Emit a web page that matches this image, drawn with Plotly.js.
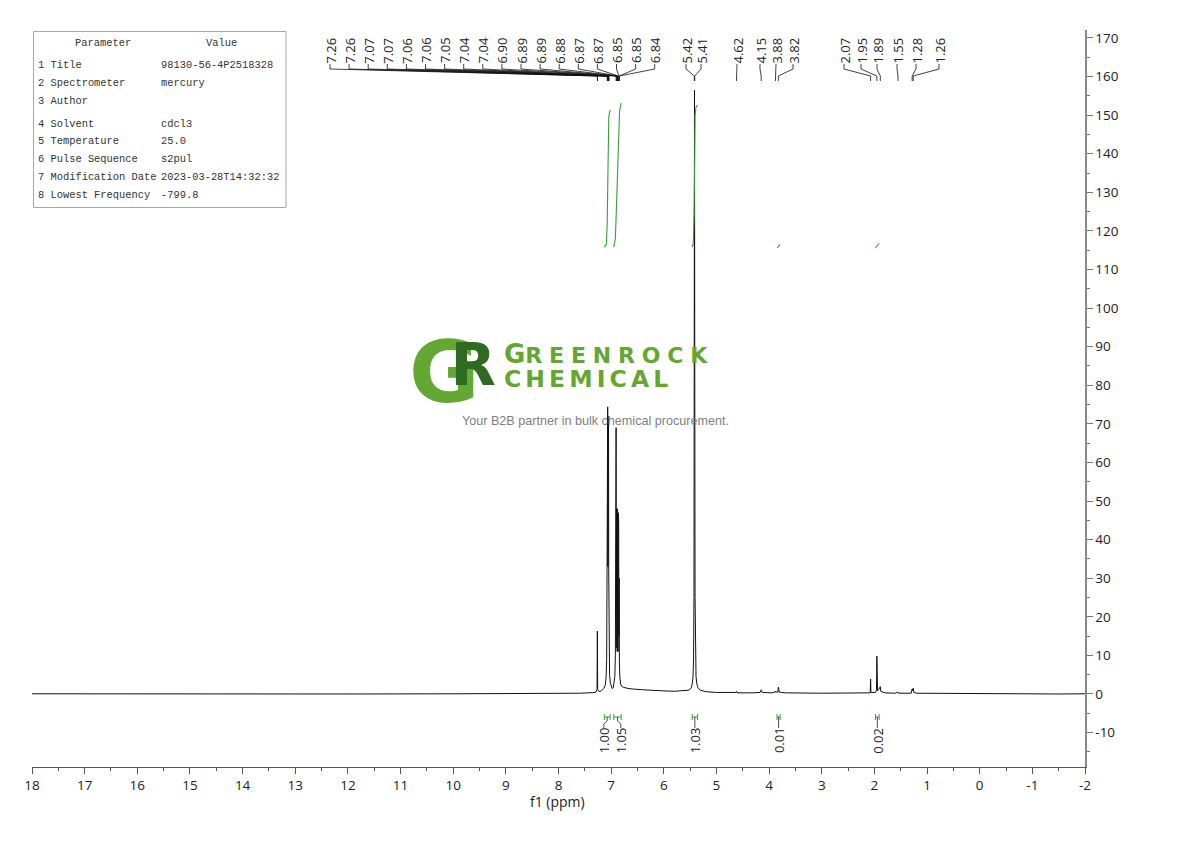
<!DOCTYPE html>
<html>
<head>
<meta charset="utf-8">
<script src="https://cdn.plot.ly/plotly-3.0.1.min.js"></script>
<style>html,body{margin:0;padding:0;background:#fff}#chart{width:1190px;height:841px}</style>
</head>
<body>
<div id="chart"></div>
<script>
// ================= DATA =================
const spectrumPpm = [18.0,16.0,14.0,12.0,10.0,8.5,7.6,7.35,7.29,7.268,7.262,7.256,7.23,7.18,7.14,7.11,7.095,7.085,7.078,7.073,7.070,7.066,7.062,7.058,7.054,7.050,7.046,7.040,7.030,7.015,7.00,6.98,6.96,6.945,6.93,6.92,6.912,6.906,6.902,6.897,6.893,6.889,6.885,6.881,6.877,6.873,6.869,6.865,6.861,6.857,6.853,6.848,6.843,6.835,6.82,6.80,6.76,6.70,6.60,6.40,6.20,6.00,5.80,5.60,5.52,5.48,5.46,5.445,5.435,5.427,5.421,5.417,5.412,5.406,5.398,5.388,5.372,5.35,5.31,5.20,5.00,4.70,4.63,4.62,4.61,4.30,4.17,4.155,4.15,4.145,4.13,3.95,3.885,3.88,3.875,3.835,3.824,3.818,3.81,3.70,3.0,2.5,2.15,2.08,2.072,2.066,1.98,1.96,1.953,1.947,1.94,1.92,1.895,1.888,1.88,1.80,1.60,1.552,1.54,1.30,1.283,1.275,1.262,1.25,1.20,0.5,-0.5,-1.5,-2.0];
const spectrumInt = [0.05,0.0,0.05,0.0,0.05,0.1,0.2,0.35,0.45,1.2,16.3,1.2,0.6,0.9,1.4,2.4,4.5,9,31,73,35,74.4,33,72,40,70,32,12,5,2.8,1.8,1.4,1.6,2.6,4.5,10,30,69,22,48,12,47,11,48,12,46,11,47,13,45,15,30,8,4.5,2.6,2.0,1.7,1.5,1.3,1.1,0.9,0.8,0.7,0.8,1.0,1.6,2.6,4.5,9,25,80,156.5,85,25,9,4.5,2.6,1.6,1.0,0.6,0.4,0.3,0.4,0.7,0.3,0.3,0.4,0.9,1.1,0.9,0.4,0.3,0.5,0.7,0.5,0.5,1.8,1.5,0.5,0.3,0.2,0.2,0.2,0.3,3.9,0.4,0.4,1.1,9.8,1.9,0.9,1.1,1.8,1.9,0.7,0.3,0.2,0.5,0.2,0.2,1.3,0.9,1.5,0.4,0.2,0.1,0.05,0.0,0.05];

const peakLabels = ['7.26','7.26','7.07','7.07','7.06','7.06','7.05','7.04','7.04','6.90','6.89','6.89','6.88','6.87','6.87','6.85','6.85','6.84','5.42','5.41','4.62','4.15','3.88','3.82','2.07','1.95','1.89','1.55','1.28','1.26'];
const peakPpm = [7.262,7.258,7.073,7.070,7.066,7.062,7.054,7.046,7.040,6.906,6.897,6.889,6.881,6.873,6.865,6.853,6.848,6.843,5.421,5.412,4.62,4.15,3.88,3.824,2.072,1.953,1.888,1.552,1.283,1.262];

const integralFrom = [7.13, 6.95, 5.46, 3.85, 1.98];
const integralTo = [7.02, 6.81, 5.36, 3.79, 1.91];
const integralLabels = ['1.00','1.05','1.03','0.01','0.02'];
const integralCurvePpm = [
  [7.13,7.09,7.075,7.065,7.055,7.045,7.02],
  [6.95,6.92,6.90,6.88,6.86,6.84,6.81],
  [5.46,5.44,5.425,5.415,5.405,5.39,5.36],
  [3.85,3.82,3.79],
  [1.98,1.95,1.91]
];
const integralCurveVal = [
  [115.8,116.5,122,132,143,149.5,151.3],
  [115.8,118,126,136,145,151,153.1],
  [115.8,117,124,140,150,152,152.6],
  [115.6,116.0,116.5],
  [115.6,116.2,116.8]
];

const xTickVals = [18,17,16,15,14,13,12,11,10,9,8,7,6,5,4,3,2,1,0,-1,-2];
const xTickText = ['18','17','16','15','14','13','12','11','10','9','8','7','6','5','4','3','2','1','0','-1','-2'];
const yTickVals = [-10,0,10,20,30,40,50,60,70,80,90,100,110,120,130,140,150,160,170];
const yTickText = ['-10','0','10','20','30','40','50','60','70','80','90','100','110','120','130','140','150','160','170'];

const tableNames = ['1 Title','2 Spectrometer','3 Author','4 Solvent','5 Temperature','6 Pulse Sequence','7 Modification Date','8 Lowest Frequency'];
const tableValues = ['98130-56-4P2518328','mercury','','cdcl3','25.0','s2pul','2023-03-28T14:32:32','-799.8'];

// ================= LAYOUT GEOMETRY =================
const W = 1190, H = 841, M = {l: 32, r: 105, t: 30, b: 74};
const PW = W - M.l - M.r, PH = H - M.t - M.b;
const X_RANGE = [18, -2], Y_RANGE = [-18.92, 172.07];
const pxToPpm = px => X_RANGE[0] + (px - M.l) / PW * (X_RANGE[1] - X_RANGE[0]);
const ppmToPx = p => M.l + (p - X_RANGE[0]) / (X_RANGE[1] - X_RANGE[0]) * PW;
const pyToVal = py => Y_RANGE[1] - (py - M.t) / PH * (Y_RANGE[1] - Y_RANGE[0]);
const pxToPaper = px => (px - M.l) / PW;
const pyToPaper = py => 1 - (py - M.t) / PH;

// label slot columns (pixels) for the multiplet labels at the top
const peakLabelSlotPx = [];
for (let i = 0; i < 18; i++) peakLabelSlotPx.push(330 + i * 19.1);
peakLabelSlotPx.push(686, 701, 737, 760, 776, 793, 844, 861, 877, 897, 916, 939);

// spread integral labels (pool-adjacent groups)
function spread(ideal, gap) {
  let groups = ideal.map((v, i) => ({idx: [i]}));
  const start = g => g.idx.reduce((s, i, k) => s + ideal[i] - k * gap, 0) / g.idx.length;
  let changed = true;
  while (changed) {
    changed = false;
    for (let g = 0; g < groups.length - 1; g++) {
      const a = groups[g], b = groups[g + 1];
      const aEnd = start(a) + (a.idx.length - 1) * gap;
      if (start(b) - aEnd < gap) {
        groups.splice(g, 2, {idx: a.idx.concat(b.idx)});
        changed = true; break;
      }
    }
  }
  const out = [];
  groups.forEach(g => { const s = start(g); g.idx.forEach((i, k) => out[i] = s + k * gap); });
  return out;
}

const FONT = 'Open Sans, DejaVu Sans, sans-serif';
const traces = [];

// spectrum
traces.push({x: spectrumPpm, y: spectrumInt, type: 'scatter', mode: 'lines',
  line: {color: '#111', width: 1}, hoverinfo: 'skip', showlegend: false});

// integral curves
const icx = [], icy = [];
integralCurvePpm.forEach((arr, j) => { arr.forEach((p, k) => { icx.push(p); icy.push(integralCurveVal[j][k]); }); icx.push(null); icy.push(null); });
traces.push({x: icx, y: icy, type: 'scatter', mode: 'lines', line: {color: '#3d9b3d', width: 1.1}, hoverinfo: 'skip', showlegend: false});

// peak label leader lines
const lx = [], ly = [];
peakLabels.forEach((t, i) => {
  const sp = pxToPpm(peakLabelSlotPx[i]);
  lx.push(sp, sp, peakPpm[i], peakPpm[i], null);
  ly.push(pyToVal(64), pyToVal(69), pyToVal(76), pyToVal(81), null);
});
traces.push({x: lx, y: ly, type: 'scatter', mode: 'lines', line: {color: '#111', width: 0.8}, hoverinfo: 'skip', showlegend: false});

// integral brackets + connectors
const centersPx = integralFrom.map((f, i) => ppmToPx((f + integralTo[i]) / 2));
const labelPx = spread(centersPx, 17);
const bx = [], by = [], cx = [], cy = [];
integralFrom.forEach((f, i) => {
  const t = integralTo[i];
  const yMid = pyToVal(717), yT = pyToVal(714), yB = pyToVal(720);
  bx.push(f, f, null, t, t, null, f, t, null);
  by.push(yT, yB, null, yT, yB, null, yMid, yMid, null);
  const c = (f + t) / 2, lp = pxToPpm(labelPx[i]);
  cx.push(c, c, lp, lp, null);
  cy.push(pyToVal(717), pyToVal(721), pyToVal(724), pyToVal(728), null);
});
traces.push({x: bx, y: by, type: 'scatter', mode: 'lines', line: {color: '#3d9b3d', width: 1}, hoverinfo: 'skip', showlegend: false});
traces.push({x: cx, y: cy, type: 'scatter', mode: 'lines', line: {color: '#222', width: 0.8}, hoverinfo: 'skip', showlegend: false});

// ================= ANNOTATIONS =================
const annotations = [];
peakLabels.forEach((t, i) => {
  annotations.push({x: pxToPpm(peakLabelSlotPx[i]), y: pyToVal(50.5), xref: 'x', yref: 'y', text: t,
    textangle: -90, showarrow: false, xanchor: 'center', yanchor: 'middle',
    font: {family: FONT, size: 13, color: '#222'}});
});
integralLabels.forEach((t, i) => {
  annotations.push({x: pxToPpm(labelPx[i]), y: pyToVal(740.5), xref: 'x', yref: 'y', text: t,
    textangle: -90, showarrow: false, xanchor: 'center', yanchor: 'middle',
    font: {family: FONT, size: 13, color: '#222'}});
});
// axis title
annotations.push({x: pxToPaper(557), y: pyToPaper(802), xref: 'paper', yref: 'paper', text: 'f1 (ppm)',
  showarrow: false, xanchor: 'center', yanchor: 'middle', borderpad: 0, font: {family: FONT, size: 14, color: '#222'}});

// parameter table
const TF = {family: 'Liberation Mono, DejaVu Sans Mono, monospace', size: 10.4, color: '#333'};
annotations.push({x: pxToPaper(103), y: pyToPaper(43), xref: 'paper', yref: 'paper', text: 'Parameter', showarrow: false, xanchor: 'center', yanchor: 'middle', font: TF});
annotations.push({x: pxToPaper(221), y: pyToPaper(43), xref: 'paper', yref: 'paper', text: 'Value', showarrow: false, xanchor: 'center', yanchor: 'middle', font: TF});
const rowY = [65, 83, 101, 123.5, 141, 159, 177, 195];
tableNames.forEach((n, i) => {
  annotations.push({x: pxToPaper(37), y: pyToPaper(rowY[i]), xref: 'paper', yref: 'paper', text: n, showarrow: false, xanchor: 'left', yanchor: 'middle', borderpad: 0, font: TF});
  if (tableValues[i]) annotations.push({x: pxToPaper(160), y: pyToPaper(rowY[i]), xref: 'paper', yref: 'paper', text: tableValues[i], showarrow: false, xanchor: 'left', yanchor: 'middle', borderpad: 0, font: TF});
});

// watermark logo
annotations.push({x: pxToPaper(408), y: pyToPaper(372), xref: 'paper', yref: 'paper',
  text: '<span style="font-size:86px;color:#62a832;letter-spacing:-29px">G</span><span style="font-size:59px;color:#2e6b20;baseline-shift:17px;letter-spacing:-14px">R</span>',
  showarrow: false, xanchor: 'left', yanchor: 'middle', borderpad: 0,
  font: {family: 'DejaVu Sans', size: 59, color: '#62a832', weight: 'bold'}});
annotations.push({x: pxToPaper(503), y: pyToPaper(366), xref: 'paper', yref: 'paper',
  text: '<span style="font-size:26px">G</span><span style="font-size:22px;letter-spacing:6.8px">REENROCK</span><br><span style="font-size:23.5px;letter-spacing:4.1px">CHEMICAL</span>',
  showarrow: false, xanchor: 'left', yanchor: 'middle', align: 'left', borderpad: 0,
  font: {family: 'DejaVu Sans', size: 18.5, color: '#64a630', weight: 'bold'}});
annotations.push({x: pxToPaper(595), y: pyToPaper(421), xref: 'paper', yref: 'paper',
  text: 'Your B2B partner in bulk chemical procurement.', showarrow: false, xanchor: 'center', yanchor: 'middle',
  font: {family: 'Liberation Sans, Arial, sans-serif', size: 12.6, color: '#808080'}});

// ================= LAYOUT =================
const layout = {
  width: W, height: H, margin: M, paper_bgcolor: '#fff', plot_bgcolor: '#fff', showlegend: false,
  xaxis: {range: X_RANGE, autorange: false, showgrid: false, zeroline: false,
    showline: true, linecolor: '#555', linewidth: 1, ticks: 'outside', ticklen: 6, tickcolor: '#555', tickwidth: 1,
    tickmode: 'array', tickvals: xTickVals, ticktext: xTickText,
    minor: {dtick: 0.5, ticks: 'outside', ticklen: 3, tickcolor: '#555', showgrid: false},
    tickfont: {family: FONT, size: 13.5, color: '#222'}},
  yaxis: {range: Y_RANGE, autorange: false, side: 'right', showgrid: false, zeroline: false,
    showline: true, linecolor: '#888', linewidth: 1.6, ticks: 'outside', ticklen: 6, tickcolor: '#777', tickwidth: 1,
    tickmode: 'array', tickvals: yTickVals, ticktext: yTickText,
    minor: {dtick: 5, ticks: 'outside', ticklen: 3, tickcolor: '#777', showgrid: false},
    tickfont: {family: FONT, size: 13.5, color: '#222'}},
  shapes: [{type: 'rect', xref: 'paper', yref: 'paper', x0: pxToPaper(33.5), x1: pxToPaper(286), y0: pyToPaper(207.5), y1: pyToPaper(31.5),
    line: {color: '#a8a8a8', width: 1}, fillcolor: 'rgba(0,0,0,0)'}],
  annotations: annotations
};

Plotly.newPlot('chart', traces, layout, {staticPlot: true, displayModeBar: false});
</script>
</body>
</html>
